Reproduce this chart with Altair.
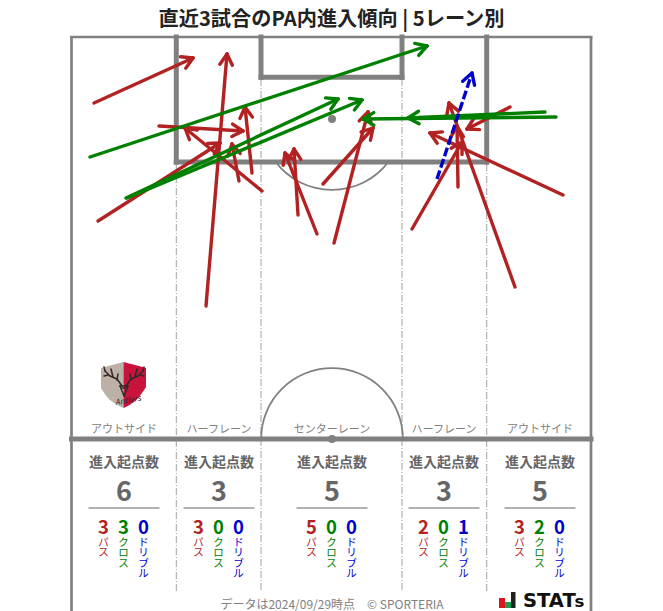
import math
import altair as alt
import pandas as pd

FONT = "Noto Sans CJK JP"
RED, GREEN, BLUE = "#b22222", "#008000", "#0000cd"
LINE = "#808080"
TXT = "#666666"

# arrows in picture units: start x, start y, end x, end y
pass_arrows = [
    (94, 103, 193, 58), (206, 306, 227, 54), (159, 126, 243, 131),
    (262, 191, 185, 128), (98, 221, 220, 143), (239, 181, 232, 144),
    (252, 173, 245, 107), (317, 234, 285, 153), (298, 215, 294, 149),
    (323, 184, 373, 128), (334, 243, 368, 112), (412, 229, 462, 142),
    (458, 187, 457, 126), (563, 195, 430, 133), (515, 287, 449, 103),
    (510, 107, 467, 129),
]
cross_arrows = [
    (90, 157, 427, 46), (126, 198, 338, 99), (127, 198, 362, 100),
    (556, 117, 363, 119), (545, 112, 408, 118),
]
dribble_arrows = [(437, 179, 472, 73)]

lanes = ["アウトサイド", "ハーフレーン", "センターレーン", "ハーフレーン", "アウトサイド"]
lane_x = [124, 219, 332, 444, 540]
totals = [6, 3, 5, 3, 5]
passes = [3, 3, 5, 2, 3]
crosses = [3, 0, 0, 0, 2]
dribbles = [0, 0, 0, 1, 0]
kinds = [("パス", RED), ("クロス", GREEN), ("ドリブル", BLUE)]

frame = [(71.5, 37, 71.5, 612), (591, 37, 591, 612), (70, 37, 592.5, 37)]
thick = [
    (176.3, 37, 176.3, 162), (486.7, 37, 486.7, 162), (176.3, 162, 486.7, 162),
    (261, 37, 261, 77.3), (402, 37, 402, 77.3), (261, 77.3, 402, 77.3),
    (71.5, 439, 591, 439),
]
lane_lines = [(176.3, 164, 591), (261, 79, 591), (402, 79, 591), (486.7, 164, 591)]
spots = [(332, 119), (332, 439)]

xs = alt.Scale(domain=[8, 655], nice=False, zero=False)
ys = alt.Scale(domain=[611, 8], nice=False, zero=False)
X = alt.X("x:Q", scale=xs, axis=None)
Y = alt.Y("y:Q", scale=ys, axis=None)


def segs(rows, **mark):
    df = pd.DataFrame(rows, columns=["x", "y", "x2", "y2"])
    return alt.Chart(df).mark_rule(**mark).encode(x=X, y=Y, x2="x2:Q", y2="y2:Q")


def arrow_rows(rows, head=12.5, spread=math.radians(30)):
    out = []
    for x0, y0, x1, y1 in rows:
        a = math.atan2(y0 - y1, x0 - x1)
        for s in (-spread, spread):
            out.append((x1, y1, x1 + head * math.cos(a + s), y1 + head * math.sin(a + s)))
    return out


def text(rows, **mark):
    df = pd.DataFrame(rows, columns=["x", "y", "t"])
    base = dict(font=FONT, align="center", baseline="middle")
    base.update(mark)
    return alt.Chart(df).mark_text(**base).encode(x=X, y=Y, text="t:N")


layers = []

# pitch
layers.append(segs([(x, y0, x, y1) for x, y0, y1 in lane_lines],
                   color="#a0a0a0", strokeWidth=1, strokeDash=[7, 2, 1, 2]))
layers.append(segs(frame, color=LINE, strokeWidth=2.7))
layers.append(segs(thick, color=LINE, strokeWidth=5, strokeCap="square"))
arc_df = pd.DataFrame({"x": [332], "y": [439]})
layers.append(alt.Chart(arc_df).mark_arc(
    theta=3 * math.pi / 2, theta2=5 * math.pi / 2, radius=71.8, radius2=70, fill="#808080"
).encode(x=X, y=Y))
arc_df2 = pd.DataFrame({"x": [332], "y": [119]})
layers.append(alt.Chart(arc_df2).mark_arc(
    theta=math.pi - 0.94, theta2=math.pi + 0.94, radius=71.8, radius2=70, fill="#808080"
).encode(x=X, y=Y))
layers.append(alt.Chart(pd.DataFrame(spots, columns=["x", "y"])).mark_point(
    filled=True, color=LINE, size=64, opacity=1).encode(x=X, y=Y))

# club crest
shield_l = pd.DataFrame({"x": [101, 108, 116, 123.5], "y": [368, 366, 364, 362], "y2": [388, 398, 404, 408]})
shield_r = pd.DataFrame({"x": [123.5, 131, 139, 146], "y": [362, 364, 366, 368], "y2": [408, 404, 397, 387]})
layers.append(alt.Chart(shield_l).mark_area(color="#bcb1a7", interpolate="monotone").encode(x=X, y=Y, y2="y2:Q"))
layers.append(alt.Chart(shield_r).mark_area(color="#c8143c", interpolate="monotone").encode(x=X, y=Y, y2="y2:Q"))
antlers = [
    (122, 386, 117, 379), (117, 379, 110, 376), (110, 376, 105, 371), (105, 371, 104, 367),
    (113, 377, 111, 369), (108, 375, 104, 376), (117, 380, 118, 374),
    (126, 386, 131, 379), (131, 379, 138, 376), (138, 376, 143, 371), (143, 371, 144, 367),
    (135, 377, 137, 369), (140, 375, 144, 376), (131, 380, 130, 374),
    (120, 386, 128, 386), (120, 386, 124, 396), (128, 386, 124, 396), (122, 388, 126, 388),
]
layers.append(segs(antlers, color="#33282a", strokeWidth=1.5, strokeCap="round"))
layers.append(text([(128, 401, "Antlers")], fontSize=8, fontStyle="italic", color="#33282a", angle=350))

# arrows
for rows, col, extra in [(pass_arrows, RED, {}), (cross_arrows, GREEN, {}),
                         (dribble_arrows, BLUE, {"strokeDash": [9, 3]})]:
    layers.append(segs(rows, color=col, strokeWidth=3.4, strokeCap="round" if not extra else "butt", **extra))
    layers.append(segs(arrow_rows(rows), color=col, strokeWidth=3.4, strokeCap="round"))

# title + lane texts
layers.append(text([(331.5, 19.5, "直近3試合のPA内進入傾向 | 5レーン別")], fontSize=20.2, fontWeight="bold", color="#222222"))
layers.append(text(list(zip(lane_x, [429.5] * 5, lanes)), fontSize=11, color="#808080"))
layers.append(text([(x, 463, "進入起点数") for x in lane_x], fontSize=14, fontWeight="bold", color=TXT))
layers.append(text(list(zip(lane_x, [492.5] * 5, totals)), fontSize=27, fontWeight="bold", color=TXT))
layers.append(segs([(x - 35.5, 508, x + 35.5, 508) for x in lane_x], color=TXT, strokeWidth=1))

for i, x in enumerate(lane_x):
    for dx, n, (label, col) in zip((-20, 0, 20), (passes[i], crosses[i], dribbles[i]), kinds):
        layers.append(text([(x + dx - 0.5, 527.5, n)], fontSize=18.5, fontWeight="bold", color=col))
        layers.append(alt.Chart(alt.Data(values=[{"x": x + dx - 0.5, "y": 538, "t": list(label)}])).mark_text(
            font=FONT, fontSize=10.5, lineHeight=10.3, align="center", baseline="top", color=col
        ).encode(x=X, y=Y, text="t:N"))

# footer
layers.append(text([(332, 605, "データは2024/09/29時点　© SPORTERIA")], fontSize=12, color="#808080"))
bars = [(499, 505, 598, 608, "#e0141e"), (505, 511, 602, 608, "#18a050"), (511, 515.5, 592, 608, "#222222")]
bar_df = pd.DataFrame(bars, columns=["x", "x2", "y", "y2", "c"])
layers.append(alt.Chart(bar_df).mark_rect().encode(
    x=X, x2="x2:Q", y=Y, y2="y2:Q", color=alt.Color("c:N", scale=None)))
layers.append(text([(523, 600.5, "STAT")], fontSize=19.5, fontWeight="bold", color="#111111",
                   font="DejaVu Sans", align="left"))
layers.append(text([(574.5, 602, "s")], fontSize=16.5, fontWeight="bold", color="#111111", font="DejaVu Sans", align="left"))

chart = alt.layer(*layers).properties(
    width=647, height=603, padding=0, autosize=alt.AutoSizeParams(type="none"), background="white"
).configure_view(stroke=None)

chart.save("out.html", embed_options={"renderer": "svg", "actions": False})
